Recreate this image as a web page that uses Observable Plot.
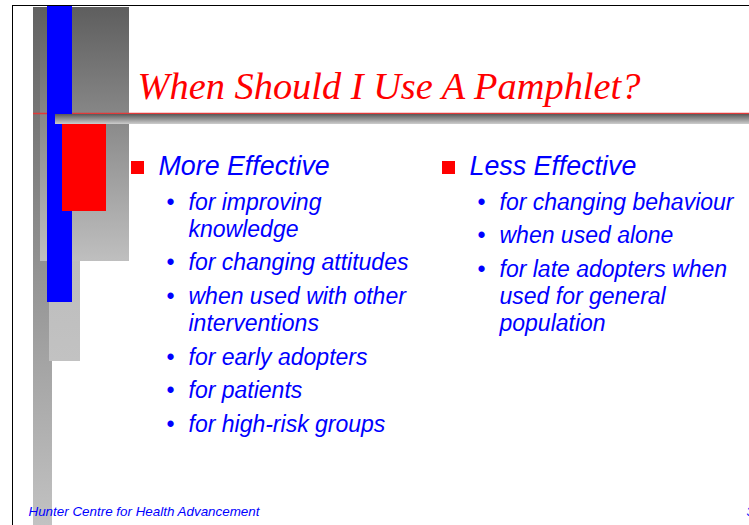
<!DOCTYPE html>
<html><head><meta charset="utf-8">
<script src="https://cdn.jsdelivr.net/npm/d3@7"></script>
<script src="https://cdn.jsdelivr.net/npm/@observablehq/plot@0.6"></script>
<style>html,body{margin:0;padding:0;background:#fff;overflow:hidden}#chart svg{display:block}</style>
</head><body><div id="chart"></div>
<script>
// ---- content ----
const title = "When Should I Use A Pamphlet?";
const headings = ["More Effective", "Less Effective"];
const moreEffective = [
  "for improving\nknowledge",
  "for changing attitudes",
  "when used with other\ninterventions",
  "for early adopters",
  "for patients",
  "for high-risk groups"
];
const lessEffective = [
  "for changing behaviour",
  "when used alone",
  "for late adopters when\nused for general\npopulation"
];
const footer = "Hunter Centre for Health Advancement";
const pageNumber = "3";

// ---- layout (slide geometry, pixels) ----
const W = 749, H = 525;
const SANS = "'Liberation Sans', Arial, sans-serif";
const SERIF = "'Liberation Serif', 'Times New Roman', serif";
const BLUE = "#0000ff", RED = "#ff0000";
const columnX = [158, 469];
const SUB = {size: 23, line: 27, gap: 6.7, first: 209, indent: 30, bulletDx: 12};

const columns = [
  {heading: headings[0], items: moreEffective, x: columnX[0]},
  {heading: headings[1], items: lessEffective, x: columnX[1]}
];
const lines = [], bullets = [];
columns.forEach(c => {
  let n = 0;
  c.items.forEach((item, i) => {
    const parts = item.split("\n");
    const y0 = SUB.first + n * SUB.line + i * SUB.gap;
    bullets.push({x: c.x + SUB.bulletDx, y: y0});
    parts.forEach((p, j) => lines.push({x: c.x + SUB.indent, y: y0 + j * SUB.line, text: p}));
    n += parts.length;
  });
});

const decorLayout = [
  {x1: 33, x2: 52, y1: 7, y2: H, fill: "url(#gStrip)"},
  {x1: 49, x2: 80, y1: 100, y2: 361, fill: "url(#gLight)"},
  {x1: 40, x2: 129, y1: 7, y2: 261, fill: "url(#gBig)"}
];
const decorFront = [
  {x1: 47, x2: 72, y1: 5, y2: 302, fill: BLUE},
  {x1: 55, x2: W, y1: 114, y2: 124, fill: "url(#gBar)"},
  {x1: 62, x2: 106, y1: 124, y2: 211, fill: RED}
];

const chart = Plot.plot({
  width: W, height: H, margin: 0,
  x: {domain: [0, W], range: [0, W], axis: null},
  y: {domain: [0, H], range: [0, H], axis: null},
  color: {type: "identity"},
  style: {background: "white"},
  marks: [
    Plot.rect(decorLayout, {x1: "x1", x2: "x2", y1: "y1", y2: "y2", fill: "fill"}),
    Plot.ruleY([113], {x1: 33, x2: W, stroke: "#e03a3a", strokeWidth: 1.5}),
    Plot.rect(decorFront, {x1: "x1", x2: "x2", y1: "y1", y2: "y2", fill: "fill"}),
    Plot.ruleY([5], {x1: 12, x2: W, stroke: "#000", strokeWidth: 1}),
    Plot.ruleX([12], {y1: 5, y2: H, stroke: "#000", strokeWidth: 1}),
    Plot.text([title], {x: 137, y: 98, text: d => d, textAnchor: "start", lineAnchor: "bottom",
      fontFamily: SERIF, fontStyle: "italic", fontSize: 38.4, fill: RED}),
    Plot.rect(columns, {x1: d => d.x - 27, x2: d => d.x - 14, y1: 161, y2: 174, fill: RED}),
    Plot.text(columns, {x: "x", y: 174, text: "heading", textAnchor: "start", lineAnchor: "bottom",
      fontFamily: SANS, fontStyle: "italic", fontSize: 26.8, fill: BLUE}),
    Plot.text(bullets, {x: "x", y: "y", text: () => "\u2022", textAnchor: "middle", lineAnchor: "bottom",
      fontFamily: SANS, fontSize: SUB.size, fill: BLUE}),
    Plot.text(lines, {x: "x", y: "y", text: "text", textAnchor: "start", lineAnchor: "bottom",
      fontFamily: SANS, fontStyle: "italic", fontSize: SUB.size, fill: BLUE}),
    Plot.text([footer], {x: 28, y: 515, text: d => d, textAnchor: "start", lineAnchor: "bottom",
      fontFamily: SANS, fontStyle: "italic", fontSize: 13.4, fill: BLUE}),
    Plot.text([pageNumber], {x: 746, y: 515, text: d => d, textAnchor: "start", lineAnchor: "bottom",
      fontFamily: SANS, fontStyle: "italic", fontSize: 13.4, fill: BLUE})
  ]
});

const defs = d3.select(chart).insert("defs", ":first-child");
function grad(id, c0, c1) {
  const g = defs.append("linearGradient").attr("id", id)
    .attr("x1", 0).attr("y1", 0).attr("x2", 0).attr("y2", 1);
  g.append("stop").attr("offset", "0").attr("stop-color", c0);
  g.append("stop").attr("offset", "1").attr("stop-color", c1);
}
grad("gStrip", "#626262", "#c2c2c2");
grad("gBig", "#5e5e5e", "#bfbfbf");
grad("gLight", "#b4b4b4", "#c2c2c2");
grad("gBar", "#585858", "#cdcdcd");

document.getElementById("chart").appendChild(chart);
</script>
</body></html>
